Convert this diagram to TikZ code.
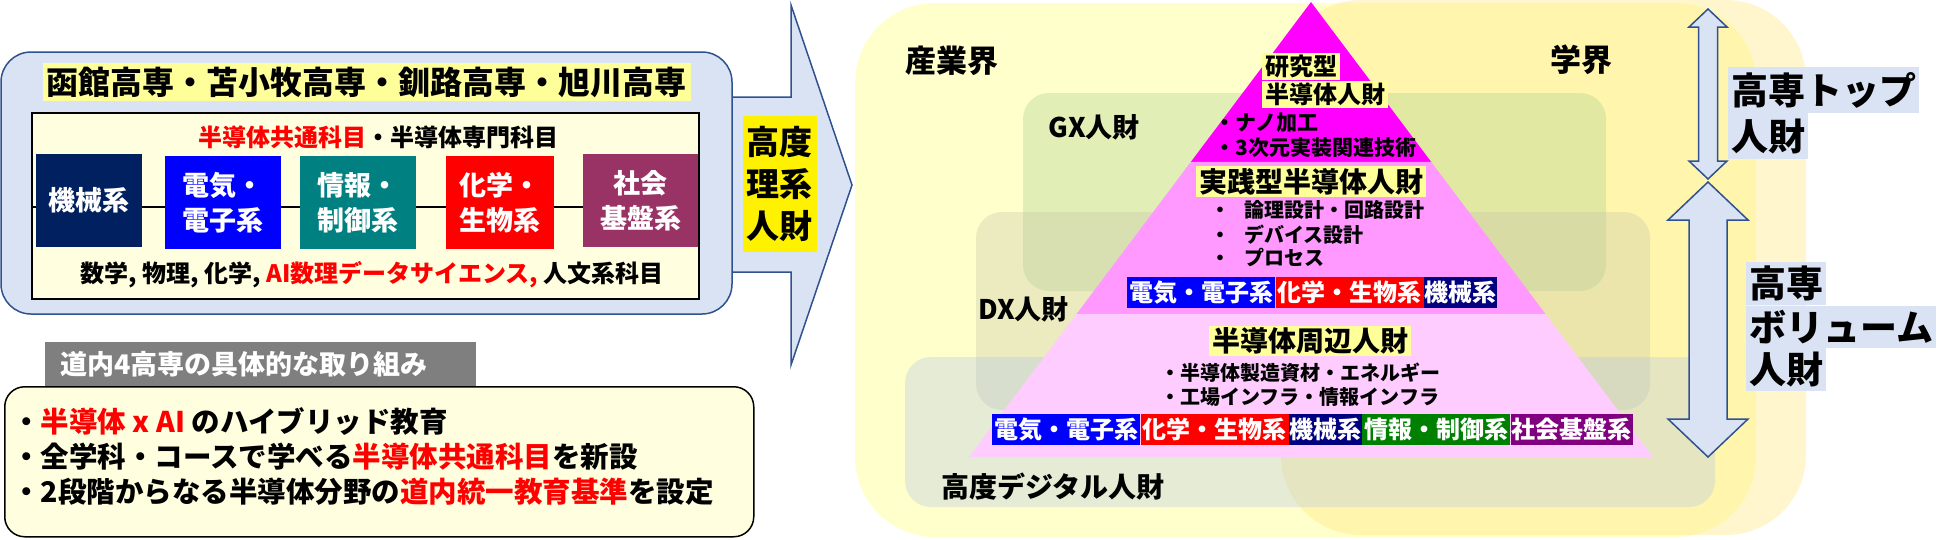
\documentclass[tikz,border=0pt]{standalone}
\usepackage{fontspec}
\setmainfont{Noto Sans CJK JP}
\usepackage{xcolor}
\usetikzlibrary{positioning,calc}
\definecolor{boxblue}{HTML}{DAE3F3}
\definecolor{edgeblue}{HTML}{2F528F}
\definecolor{paleyel}{HTML}{FFFFE0}
\definecolor{hiyel}{HTML}{FFFF99}
\definecolor{kikai}{HTML}{002060}
\definecolor{denki}{HTML}{0000FF}
\definecolor{joho}{HTML}{008080}
\definecolor{kagaku}{HTML}{FF0000}
\definecolor{shakai}{HTML}{993366}
\definecolor{tabgray}{HTML}{7F7F7F}
\definecolor{pyrtop}{HTML}{FF00FF}
\definecolor{pyrmid}{HTML}{FF99FF}
\definecolor{pyrbot}{HTML}{FFCCFF}
\definecolor{barnavy}{HTML}{000080}
\definecolor{bargreen}{HTML}{008000}
\definecolor{barpurple}{HTML}{800080}
\definecolor{indy}{HTML}{FFFF99}
\definecolor{acad}{HTML}{FFE678}
\definecolor{gxgreen}{HTML}{A9D18E}
\definecolor{dxgray}{HTML}{C9C6A8}
\definecolor{digiblue}{HTML}{B4C7E7}
\newcommand{\fsz}[2]{\fontsize{#1}{#2}\selectfont}

\begin{document}
\begin{tikzpicture}[x = 1pt, y = -1pt,
  txt/.style = {inner sep = 0pt},
  hl/.style = {fill = #1, inner xsep = 3pt, inner ysep = 2pt},
  dept/.style = {fill = #1, text = white, align = center, inner sep = 0pt, minimum height = 93pt, font = {\bfseries\fsz{27}{35}}},
  bar/.style = {fill = #1, text = white, anchor = west, minimum height = 31pt, inner sep = 0pt, font = {\bfseries\fsz{24}{24}}},
  zone/.style = {fill = #1, fill opacity = .35, rounded corners = 26pt},
  dblarrow/.style = {fill = boxblue, draw = edgeblue, line width = 1.5pt, line join = miter}]
\useasboundingbox (0,0) rectangle (1950,539);

% right side
\fill[indy, fill opacity = .5, rounded corners = 80pt] (855,3) rectangle (1756,537);
\fill[acad, fill opacity = .37, rounded corners = 80pt] (1281,0) rectangle (1806,535);
\fill[zone = gxgreen] (1023,93) rectangle (1606,291);
\fill[zone = dxgray] (976,212) rectangle (1650,410);
\fill[zone = digiblue] (905,357) rectangle (1715,507);

\coordinate (apex) at (1311,2);
\coordinate (bl) at (969,457);
\coordinate (br) at (1653,457);
\coordinate (l1) at ($(apex)!.3516!(bl)$);
\coordinate (r1) at ($(apex)!.3516!(br)$);
\coordinate (l2) at ($(apex)!.6857!(bl)$);
\coordinate (r2) at ($(apex)!.6857!(br)$);
\fill[pyrtop] (apex) -- (r1) -- (l1) -- cycle;
\fill[pyrmid] (l1) -- (r1) -- (r2) -- (l2) -- cycle;
\fill[pyrbot] (l2) -- (r2) -- (br) -- (bl) -- cycle;

\node[txt, font = {\bfseries\fsz{31}{31}}] (sangyo) at (952,61) {産業界};
\node[txt, font = {\bfseries\fsz{31}{31}}] (gakkai) at (1581,60) {学界};
\node[txt, anchor = west, font = {\bfseries\fsz{27}{27}}] (gx) at (1048,127) {GX人財};
\node[txt, anchor = west, font = {\bfseries\fsz{27}{27}}] (dx) at (978,309) {DX人財};
\node[txt, anchor = west, font = {\bfseries\fsz{28}{28}}] (digital) at (941,487) {高度デジタル人財};

\node[hl = hiyel, anchor = north west, font = {\bfseries\fsz{24}{24}}] (kenkyu) at (1262,53) {研究型};
\node[hl = hiyel, anchor = north west, font = {\bfseries\fsz{24}{24}}] (kenkyub) at (kenkyu.south west) {半導体人財};
\node[txt, anchor = west, font = {\bfseries\fsz{21}{21}}] (nano) at (1214,123) {・ナノ加工};
\node[txt, anchor = west, font = {\bfseries\fsz{21}{21}}] (jisso) at (1214,148) {・3次元実装関連技術};
\node[hl = hiyel, font = {\bfseries\fsz{28}{28}}] (jissen) at (1311,181.5) {実践型半導体人財};
\node[txt, anchor = west, font = {\bfseries\fsz{20}{20}}] (ronri) at (1210,210) {・\hspace{14pt}論理設計・回路設計};
\node[txt, anchor = west, font = {\bfseries\fsz{20}{20}}] (device) at (1210,235) {・\hspace{14pt}デバイス設計};
\node[txt, anchor = west, font = {\bfseries\fsz{20}{20}}] (process) at (1210,258) {・\hspace{14pt}プロセス};
\node[bar = denki, minimum width = 148pt] (midelec) at (1127,292.5) {電気・電子系};
\node[bar = kagaku, minimum width = 148pt] (midchem) at (midelec.east) {化学・生物系};
\node[bar = barnavy, minimum width = 73pt] (midmech) at (midchem.east) {機械系};
\node[hl = hiyel, font = {\bfseries\fsz{28}{28}}] (shuhen) at (1310,341) {半導体周辺人財};
\node[txt, anchor = west, font = {\bfseries\fsz{20}{20}}] (shizai) at (1160,373) {・半導体製造資材・エネルギー};
\node[txt, anchor = west, font = {\bfseries\fsz{20}{20}}] (infra) at (1160,397) {・工場インフラ・情報インフラ};
\node[bar = denki, minimum width = 148pt] (botelec) at (992,429.5) {電気・電子系};
\node[bar = kagaku, minimum width = 148pt] (botchem) at (botelec.east) {化学・生物系};
\node[bar = barnavy, minimum width = 73pt] (botmech) at (botchem.east) {機械系};
\node[bar = bargreen, minimum width = 148pt] (botinfo) at (botmech.east) {情報・制御系};
\node[bar = barpurple, minimum width = 122pt] (botcivil) at (botinfo.east) {社会基盤系};

\draw[dblarrow] (1708,9) -- (1727,27) -- (1717.5,27) -- (1717.5,161) -- (1727,161) -- (1708,179)
  -- (1689,161) -- (1698.5,161) -- (1698.5,27) -- (1689,27) -- cycle;
\draw[dblarrow] (1708,182) -- (1748,220) -- (1727,220) -- (1727,419) -- (1748,419) -- (1708,457)
  -- (1668,419) -- (1689,419) -- (1689,220) -- (1668,220) -- cycle;
\node[hl = boxblue, anchor = north west, inner ysep = 5pt, font = {\bfseries\fsz{37}{37}}] (top) at (1728,67) {高専トップ};
\node[hl = boxblue, anchor = north west, inner ysep = 5pt, font = {\bfseries\fsz{37}{37}}] (topb) at (top.south west) {人財};
\node[hl = boxblue, anchor = north west, inner ysep = 4pt, font = {\bfseries\fsz{37}{37}}] (vol) at (1746,262) {高専};
\node[hl = boxblue, anchor = north west, inner ysep = 4pt, font = {\bfseries\fsz{37}{37}}] (volb) at (vol.south west) {ボリューム};
\node[hl = boxblue, anchor = north west, inner ysep = 4pt, font = {\bfseries\fsz{37}{37}}] (volc) at (volb.south west) {人財};

% left side
\draw[fill = boxblue, draw = edgeblue, line width = 1.5pt] (700,97) -- (791,97) -- (791,5) -- (852,185)
  -- (791,365) -- (791,272) -- (700,272) -- cycle;
\node[draw = edgeblue, line width = 1.5pt, fill = boxblue, rounded corners = 30pt, minimum width = 731pt, minimum height = 262pt, inner sep = 0pt] (leftbox) at (366.5,183) {};
\node[fill = yellow, align = center, inner xsep = 4pt, inner ysep = 10pt, font = {\bfseries\fsz{33}{42}}] (koudo) at (779.5,184) {高度\\理系\\人財};
\node[hl = hiyel, inner xsep = 4pt, inner ysep = 4pt, font = {\bfseries\fsz{32}{32}}] (schools) at (366.5,82) {函館高専・苫小牧高専・釧路高専・旭川高専};
\node[draw = black, line width = 1.5pt, fill = paleyel, minimum width = 667pt, minimum height = 186pt, inner sep = 0pt] (inbox) at (365.5,206) {};
\node[txt, font = {\bfseries\fsz{24}{24}}] (kyotsu) at (378,137) {\textcolor{red}{半導体共通科目}・半導体専門科目};
\coordinate (mid) at (0,207);
\draw[line width = 1.5pt] (inbox.west |- mid) -- (inbox.east |- mid);
\node[dept = kikai, minimum width = 106pt] (mech) at (89,200.5) {機械系};
\node[dept = denki, minimum width = 116pt] (elec) at (223,202.5) {電気・\\電子系};
\node[dept = joho, minimum width = 116pt] (info) at (358,202.5) {情報・\\制御系};
\node[dept = kagaku, minimum width = 108pt] (chem) at (500,202.5) {化学・\\生物系};
\node[dept = shakai, minimum width = 115pt] (civil) at (640.5,200.5) {社会\\基盤系};
\node[txt, font = {\bfseries\fsz{24}{24}}] (subj) at (372,275) {数学, 物理, 化学, \textcolor{red}{AI数理データサイエンス,} 人文系科目};

\node[draw = black, line width = 1.5pt, fill = paleyel, rounded corners = 20pt, minimum width = 749pt, minimum height = 150pt, anchor = north west, inner sep = 0pt] (effort) at (4,386) {};
\node[fill = tabgray, text = white, anchor = north west, minimum height = 44pt, text width = 401pt, inner xsep = 15pt, inner ysep = 0pt, align = left, font = {\bfseries\fsz{27}{27}}] (tab) at (45,342) {道内4高専の具体的な取り組み};
\node[txt, anchor = west, font = {\bfseries\fsz{28.5}{28.5}}] (hybrid) at (12,422) {・\textcolor{red}{半導体 x AI} のハイブリッド教育};
\node[txt, anchor = west, font = {\bfseries\fsz{28.5}{28.5}}] (common) at (12,457) {・全学科・コースで学べる\textcolor{red}{半導体共通科目}を新設};
\node[txt, anchor = west, font = {\bfseries\fsz{28.5}{28.5}}] (standard) at (12,492) {・2段階からなる半導体分野の\textcolor{red}{道内統一教育基準}を設定};
\end{tikzpicture}
\end{document}
